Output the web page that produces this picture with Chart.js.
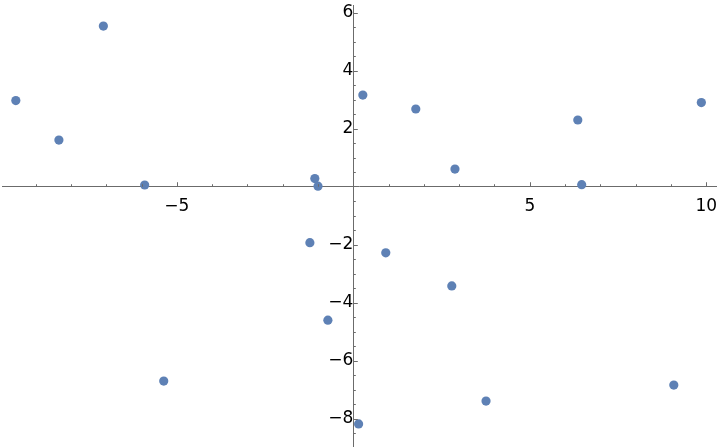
<!DOCTYPE html>
<html>
<head>
<meta charset="utf-8">
<script src="https://cdn.jsdelivr.net/npm/chart.js@4"></script>
<style>
  html, body { margin: 0; padding: 0; background: #fff; }
  #wrap { width: 720px; height: 448px; }
</style>
</head>
<body>
<div id="wrap"><canvas id="scatter"></canvas></div>
<script>
const xs = [-9.56, -8.34, -7.08, -5.91, -5.37, -1.09, -1.00, -1.23, -0.72, 0.15,
            0.27, 0.92, 1.77, 2.88, 2.79, 3.76, 6.36, 6.47, 9.08, 9.86];
const ys = [2.97, 1.61, 5.54, 0.06, -6.70, 0.28, 0.02, -1.93, -4.60, -8.18,
            3.16, -2.28, 2.68, 0.61, -3.42, -7.39, 2.30, 0.07, -6.84, 2.90];
const xTicks = [-5, 5, 10];
const yTicks = [-8, -6, -4, -2, 2, 4, 6];
const xMinor = [-9, -8, -7, -6, -4, -3, -2, -1, 1, 2, 3, 4, 6, 7, 8, 9];
const yMinor = [-8.5, -7.5, -7, -6.5, -5.5, -5, -4.5, -3.5, -3, -2.5, -1.5, -1, -0.5,
                0.5, 1, 1.5, 2.5, 3, 3.5, 4.5, 5, 5.5];

const points = xs.map((x, i) => ({ x: x, y: ys[i] }));
const axisColor = '#6b6b6b';
const fmt = v => (v < 0 ? '\u2212' + Math.abs(v) : String(v));

// centred axes should not eat into the plot area
const noSpace = s => {
    if (s.isHorizontal()) s.height = 0; else s.width = 0;
    s.paddingLeft = s.paddingRight = s.paddingTop = s.paddingBottom = 0;
};

// Mathematica style ticks: drawn on the inner side of the axes
const tickMarks = {
    id: 'tickMarks',
    afterDraw(chart) {
        const c = chart.ctx;
        const sx = chart.scales.x, sy = chart.scales.y;
        const x0 = sx.getPixelForValue(0), y0 = sy.getPixelForValue(0);
        c.save();
        c.strokeStyle = axisColor;
        c.lineWidth = 1;
        c.beginPath();
        xTicks.forEach(v => { const p = Math.round(sx.getPixelForValue(v)) + 0.5; c.moveTo(p, y0); c.lineTo(p, y0 - 4.5); });
        xMinor.forEach(v => { const p = Math.round(sx.getPixelForValue(v)) + 0.5; c.moveTo(p, y0); c.lineTo(p, y0 - 2.5); });
        yTicks.forEach(v => { const p = Math.round(sy.getPixelForValue(v)) + 0.5; c.moveTo(x0, p); c.lineTo(x0 + 4.5, p); });
        yMinor.forEach(v => { const p = Math.round(sy.getPixelForValue(v)) + 0.5; c.moveTo(x0, p); c.lineTo(x0 + 2.5, p); });
        c.stroke();
        c.restore();
    }
};

const ctx = document.getElementById('scatter').getContext('2d');
const scatter = new Chart(ctx, {
    type: 'scatter',
    data: {
        datasets: [{
            data: points,
            backgroundColor: '#5e81b5',
            borderWidth: 0,
            pointRadius: 4.6,
            pointHoverRadius: 4.6
        }]
    },
    options: {
        responsive: true,
        maintainAspectRatio: false,
        animation: false,
        events: [],
        layout: { autoPadding: false, padding: { left: 2, right: 4, top: 5, bottom: 2 } },
        plugins: { legend: { display: false }, tooltip: { enabled: false } },
        scales: {
            x: {
                type: 'linear',
                position: { y: 0 },
                min: -9.952,
                max: 10.275,
                afterBuildTicks: s => { s.ticks = xTicks.map(v => ({ value: v })); },
                afterFit: noSpace,
                grid: { drawOnChartArea: false, drawTicks: false },
                border: { display: true, color: axisColor, width: 1 },
                ticks: {
                    padding: 10,
                    color: '#000',
                    font: { family: 'DejaVu Sans', size: 17 },
                    callback: v => fmt(v)
                }
            },
            y: {
                type: 'linear',
                position: { x: 0 },
                min: -8.94,
                max: 6.266,
                afterBuildTicks: s => { s.ticks = yTicks.map(v => ({ value: v })); },
                afterFit: noSpace,
                grid: { drawOnChartArea: false, drawTicks: false },
                border: { display: true, color: axisColor, width: 1 },
                ticks: {
                    padding: 7,
                    color: '#000',
                    font: { family: 'DejaVu Sans', size: 17 },
                    callback: v => fmt(v)
                }
            }
        }
    },
    plugins: [tickMarks]
});
</script>
</body>
</html>
